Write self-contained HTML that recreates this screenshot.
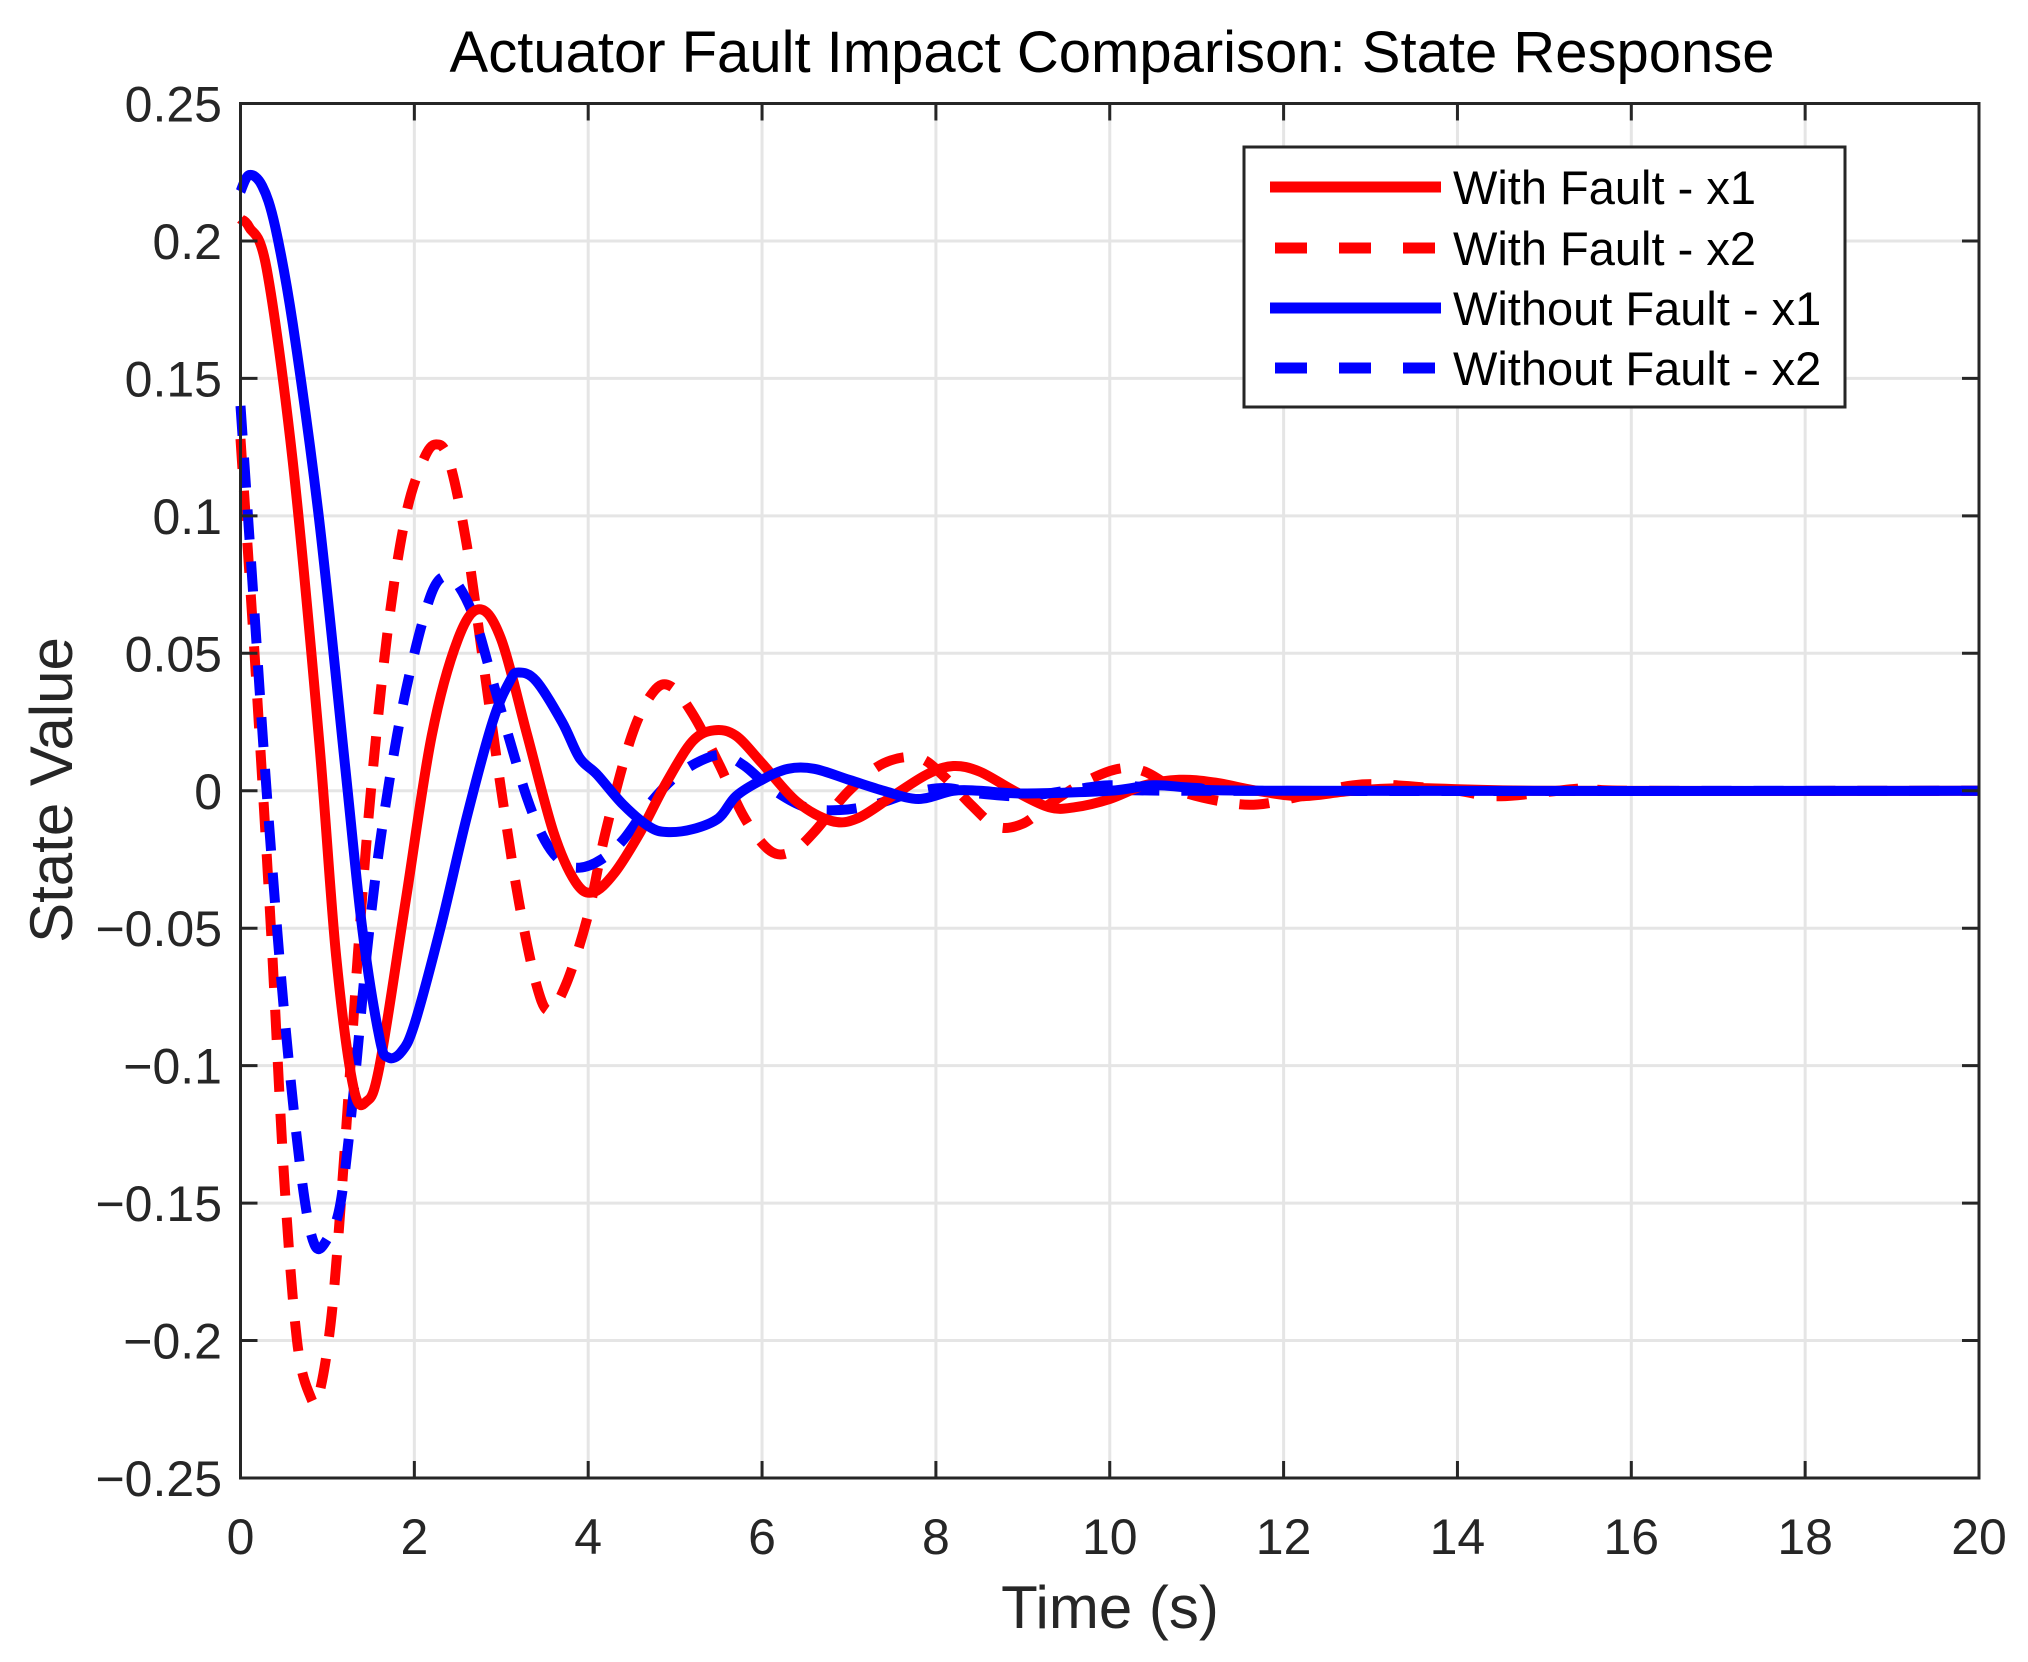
<!DOCTYPE html>
<html><head><meta charset="utf-8"><style>
html,body{margin:0;padding:0;background:#fff;}
svg{display:block;font-family:"Liberation Sans",Arial,sans-serif;}
</style></head><body>
<svg id="chart" width="2028" height="1662" viewBox="0 0 2028 1662">
<rect x="0" y="0" width="2028" height="1662" fill="#fff"/>
<g id="grid"></g>
<g id="series"></g>
<g id="axes"></g>
<text x="1112" y="72" font-size="58" text-anchor="middle" fill="#000">Actuator Fault Impact Comparison: State Response</text>
<text x="1110" y="1628" font-size="60" text-anchor="middle" fill="#262626">Time (s)</text>
<text transform="translate(72,790) rotate(-90)" font-size="60" text-anchor="middle" fill="#262626">State Value</text>
<g id="legend">
<rect x="1244" y="147" width="601" height="260" fill="#fff" stroke="#262626" stroke-width="3"/>
</g>
</svg>
<script>
const xTicks = [0,2,4,6,8,10,12,14,16,18,20];
const yTicks = [-0.25,-0.2,-0.15,-0.1,-0.05,0,0.05,0.1,0.15,0.2,0.25];
const yTickLabels = ["\u22120.25","\u22120.2","\u22120.15","\u22120.1","\u22120.05","0","0.05","0.1","0.15","0.2","0.25"];
const seriesNames = ["With Fault - x1","With Fault - x2","Without Fault - x1","Without Fault - x2"];

const tWF1 = [0,0.1,0.3,0.6,0.9,1.1,1.3,1.45,1.6,1.9,2.2,2.5,2.75,3.0,3.3,3.6,3.85,4.05,4.3,4.6,4.9,5.2,5.45,5.7,6.0,6.4,6.8,7.1,7.5,7.9,8.2,8.5,8.9,9.3,9.6,10,10.4,10.8,11.2,11.7,12.2,12.8,13.5,15,20];
const vWF1 = [0.208,0.205,0.19,0.12,0.02,-0.06,-0.108,-0.113,-0.1,-0.04,0.02,0.055,0.066,0.055,0.02,-0.015,-0.033,-0.037,-0.03,-0.015,0.003,0.018,0.022,0.02,0.01,-0.004,-0.011,-0.01,-0.002,0.006,0.009,0.007,0.0,-0.006,-0.006,-0.003,0.002,0.004,0.003,0.0,-0.002,0,0.001,0,0];

const tWF2 = [0,0.1,0.2,0.35,0.5,0.65,0.8,0.9,1.05,1.2,1.35,1.5,1.7,1.9,2.1,2.25,2.4,2.6,2.8,3.0,3.2,3.4,3.55,3.75,4.0,4.2,4.5,4.75,4.95,5.2,5.5,5.8,6.1,6.35,6.6,7.0,7.4,7.8,8.1,8.4,8.7,9.0,9.3,9.7,10.1,10.4,10.8,11.3,11.7,12.2,12.8,13.3,14,14.5,15.5,16,20];
const vWF2 = [0.128,0.08,0.03,-0.05,-0.14,-0.2,-0.22,-0.22,-0.19,-0.13,-0.06,0.0,0.06,0.1,0.12,0.126,0.12,0.09,0.045,0.0,-0.04,-0.07,-0.08,-0.07,-0.045,-0.015,0.02,0.036,0.038,0.028,0.01,-0.01,-0.022,-0.022,-0.015,0.0,0.01,0.012,0.005,-0.005,-0.013,-0.012,-0.005,0.003,0.008,0.007,0.0,-0.004,-0.005,-0.002,0.002,0.002,0,-0.002,0.001,0,0];

const tNF1 = [0,0.1,0.25,0.4,0.6,0.9,1.2,1.4,1.6,1.7,1.85,2.0,2.3,2.6,2.9,3.1,3.2,3.4,3.7,3.9,4.1,4.4,4.7,4.9,5.2,5.5,5.7,6.0,6.3,6.6,7.0,7.4,7.8,8.2,8.5,9,10,10.5,11,12,20];
const vNF1 = [0.218,0.224,0.22,0.205,0.17,0.1,0.01,-0.05,-0.09,-0.097,-0.095,-0.085,-0.05,-0.01,0.025,0.04,0.043,0.04,0.025,0.012,0.006,-0.005,-0.013,-0.015,-0.014,-0.01,-0.002,0.004,0.008,0.008,0.004,0.0,-0.003,0.0,0.0,-0.001,0.0,0.002,0.001,0,0];

const tNF2 = [0,0.15,0.3,0.5,0.7,0.85,1.0,1.15,1.3,1.45,1.6,1.8,2.0,2.2,2.35,2.5,2.7,2.9,3.1,3.3,3.5,3.7,3.9,4.15,4.4,4.7,5.0,5.3,5.55,5.8,6.1,6.5,6.9,7.3,7.7,8.1,8.5,9,9.5,10,10.5,11,20];
const vNF2 = [0.14,0.07,0.0,-0.08,-0.14,-0.165,-0.163,-0.15,-0.11,-0.06,-0.02,0.02,0.05,0.072,0.078,0.075,0.062,0.04,0.018,-0.003,-0.018,-0.026,-0.028,-0.025,-0.018,-0.005,0.005,0.011,0.013,0.009,0.001,-0.006,-0.007,-0.005,-0.001,0.001,-0.001,-0.002,0.0,0.002,0.001,0,0];

const X0=240.5, X1=1979, Y0=1478, Y1=103.5;
const xMin=0,xMax=20,yMin=-0.25,yMax=0.25;
function sx(t){return X0+(t-xMin)/(xMax-xMin)*(X1-X0);}
function sy(v){return Y0-(v-yMin)/(yMax-yMin)*(Y0-Y1);}
const NS="http://www.w3.org/2000/svg";
function mk(tag,attrs,parent){const e=document.createElementNS(NS,tag);for(const k in attrs)e.setAttribute(k,attrs[k]);parent.appendChild(e);return e;}

const grid=document.getElementById('grid'), axes=document.getElementById('axes'), series=document.getElementById('series'), legend=document.getElementById('legend');

xTicks.forEach(function(t){
  const g=mk('line',{x1:sx(t),x2:sx(t),y1:Y1,y2:Y0,stroke:'#e5e5e5','stroke-width':3},grid);
  
  
  const tb=mk('line',{x1:sx(t),x2:sx(t),y1:Y0,y2:Y0-17,stroke:'#262626','stroke-width':3},axes);
  
  
  const tt=mk('line',{x1:sx(t),x2:sx(t),y1:Y1,y2:Y1+17,stroke:'#262626','stroke-width':3},axes);
  
  
  const lb=mk('text',{x:sx(t),y:1554,'font-size':50,'text-anchor':'middle',fill:'#262626'},axes);
  lb.textContent=String(t);
  
  
});
yTicks.forEach(function(v,i){
  const g=mk('line',{x1:X0,x2:X1,y1:sy(v),y2:sy(v),stroke:'#e5e5e5','stroke-width':3},grid);
  
  
  const tl=mk('line',{x1:X0,x2:X0+17,y1:sy(v),y2:sy(v),stroke:'#262626','stroke-width':3},axes);
  
  
  const tr=mk('line',{x1:X1,x2:X1-17,y1:sy(v),y2:sy(v),stroke:'#262626','stroke-width':3},axes);
  
  
  const lb=mk('text',{x:222,y:sy(v)+18,'font-size':50,'text-anchor':'end',fill:'#262626'},axes);
  lb.textContent=yTickLabels[i];
  
  
});
const box=mk('rect',{x:X0,y:Y1,width:X1-X0,height:Y0-Y1,fill:'none',stroke:'#262626','stroke-width':3},axes);



function smoothPath(ts,vs){
  const P=ts.map(function(t,i){return [sx(t),sy(vs[i])];});
  let d='M'+P[0][0].toFixed(1)+','+P[0][1].toFixed(1);
  for(let i=0;i<P.length-1;i++){
    const p0=P[Math.max(0,i-1)],p1=P[i],p2=P[i+1],p3=P[Math.min(P.length-1,i+2)];
    const c1=[p1[0]+(p2[0]-p0[0])/6,p1[1]+(p2[1]-p0[1])/6];
    const c2=[p2[0]-(p3[0]-p1[0])/6,p2[1]-(p3[1]-p1[1])/6];
    d+='C'+c1[0].toFixed(1)+','+c1[1].toFixed(1)+' '+c2[0].toFixed(1)+','+c2[1].toFixed(1)+' '+p2[0].toFixed(1)+','+p2[1].toFixed(1);
  }
  return d;
}

const defs=[
  {t:tWF2,v:vWF2,c:'#ff0000',d:'30 22',n:'series-with-fault-x2'},
  {t:tNF2,v:vNF2,c:'#0000ff',d:'30 22',n:'series-without-fault-x2'},
  {t:tWF1,v:vWF1,c:'#ff0000',d:'',n:'series-with-fault-x1'},
  {t:tNF1,v:vNF1,c:'#0000ff',d:'',n:'series-without-fault-x1'}
];
defs.forEach(function(s){
  const p=mk('path',{d:smoothPath(s.t,s.v),fill:'none',stroke:s.c,'stroke-width':10,'stroke-linejoin':'round'},series);
  if(s.d)p.setAttribute('stroke-dasharray',s.d);
  
  
});

const legY=[187,248,308,368];
const legC=['#ff0000','#ff0000','#0000ff','#0000ff'];
const legD=['','32 32','','32 32'];
seriesNames.forEach(function(name,i){
  const l=mk('line',{x1:legD[i]?1275:1270,x2:1441,y1:legY[i],y2:legY[i],stroke:legC[i],'stroke-width':11},legend);
  if(legD[i])l.setAttribute('stroke-dasharray',legD[i]);
  
  
  const tx=mk('text',{x:1453,y:legY[i]+17,'font-size':47,fill:'#000'},legend);
  tx.textContent=name;
  
  
});
</script>
</body></html>
